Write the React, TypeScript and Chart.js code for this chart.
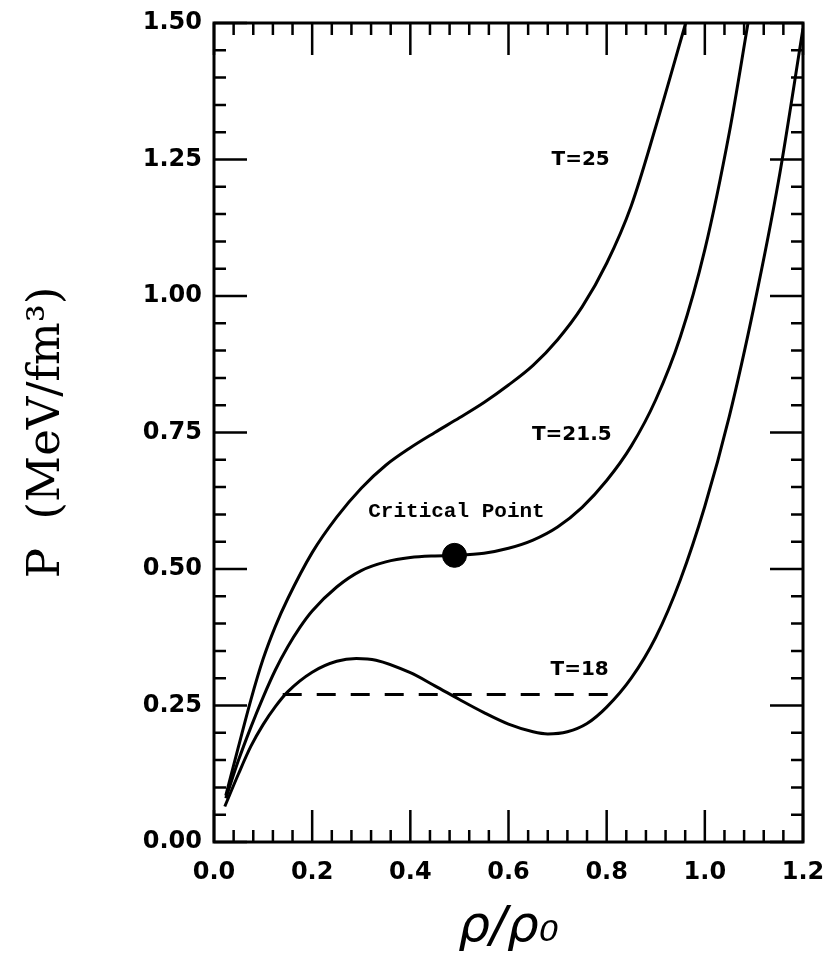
import React, { useEffect, useRef } from 'react';
import { Chart, registerables } from 'chart.js';

Chart.register(...registerables);

// ---- axis ticks ----
const X_MAJOR = [0.0, 0.2, 0.4, 0.6, 0.8, 1.0, 1.2];
const Y_MAJOR = [0.0, 0.25, 0.5, 0.75, 1.0, 1.25, 1.5];
const X_MINOR_PER_MAJOR = 5;
const Y_MINOR_PER_MAJOR = 5;

// ---- isotherms (rho/rho0 , P in MeV/fm^3) ----
const T25_RHO = [0.024, 0.05, 0.075, 0.1, 0.125, 0.15, 0.2, 0.25, 0.3, 0.35, 0.4, 0.45, 0.5, 0.55, 0.6, 0.65, 0.7, 0.75, 0.8, 0.85, 0.9, 0.961];
const T25_P = [0.085, 0.175, 0.26, 0.335, 0.395, 0.445, 0.53, 0.595, 0.648, 0.69, 0.722, 0.75, 0.777, 0.805, 0.837, 0.873, 0.92, 0.98, 1.06, 1.165, 1.31, 1.5];

const T215_RHO = [0.024, 0.05, 0.075, 0.1, 0.125, 0.15, 0.175, 0.2, 0.25, 0.3, 0.35, 0.4, 0.45, 0.49, 0.55, 0.6, 0.65, 0.7, 0.75, 0.8, 0.85, 0.9, 0.95, 1.0, 1.05, 1.088];
const T215_P = [0.08, 0.15, 0.21, 0.265, 0.315, 0.357, 0.393, 0.423, 0.467, 0.497, 0.513, 0.521, 0.524, 0.525, 0.529, 0.538, 0.553, 0.577, 0.613, 0.662, 0.725, 0.81, 0.925, 1.085, 1.3, 1.5];

const T18_RHO = [0.022, 0.05, 0.075, 0.1, 0.125, 0.15, 0.2, 0.25, 0.29, 0.33, 0.4, 0.45, 0.5, 0.55, 0.6, 0.65, 0.68, 0.72, 0.76, 0.8, 0.85, 0.9, 0.95, 1.0, 1.05, 1.1, 1.15, 1.2];
const T18_P = [0.065, 0.125, 0.175, 0.215, 0.248, 0.275, 0.311, 0.331, 0.336, 0.333, 0.31, 0.286, 0.261, 0.237, 0.216, 0.202, 0.198, 0.202, 0.217, 0.247, 0.3, 0.375, 0.48, 0.615, 0.78, 0.98, 1.21, 1.49];

// Maxwell construction (dashed) for T=18
const COEX_RHO = [0.14, 0.822];
const COEX_P = [0.27, 0.27];

// critical point
const CRIT_RHO = [0.49];
const CRIT_P = [0.525];

// text annotations
const NOTE_TEXT = ['T=25', 'T=21.5', 'T=18', 'Critical Point'];
const NOTE_RHO = [0.747, 0.729, 0.745, 0.494];
const NOTE_P = [1.249, 0.746, 0.315, 0.605];

type TickDef = { v: number; major: boolean };

function buildTicks(majors: number[], n: number): TickDef[] {
  const out: TickDef[] = [];
  for (let i = 0; i < majors.length - 1; i++) {
    const a = majors[i];
    const b = majors[i + 1];
    for (let k = 0; k < n; k++) {
      out.push({ v: a + ((b - a) * k) / n, major: k === 0 });
    }
  }
  out.push({ v: majors[majors.length - 1], major: true });
  return out;
}

const X_TICKS = buildTicks(X_MAJOR, X_MINOR_PER_MAJOR);
const Y_TICKS = buildTicks(Y_MAJOR, Y_MINOR_PER_MAJOR);

const zip = (xs: number[], ys: number[]) => xs.map((x, i) => ({ x, y: ys[i] }));

const framePlugin = {
  id: 'frameTicks',
  afterDraw(chart: any) {
    const { ctx, chartArea, scales } = chart;
    const { left, right, top, bottom } = chartArea;
    const xs = scales.x;
    const ys = scales.y;
    ctx.save();
    ctx.strokeStyle = '#000';
    ctx.lineCap = 'butt';
    ctx.lineWidth = 2.5;
    ctx.beginPath();
    X_TICKS.forEach((t) => {
      const px = xs.getPixelForValue(t.v);
      const len = t.major ? 32 : 12;
      ctx.moveTo(px, bottom);
      ctx.lineTo(px, bottom - len);
      ctx.moveTo(px, top);
      ctx.lineTo(px, top + len);
    });
    Y_TICKS.forEach((t) => {
      const py = ys.getPixelForValue(t.v);
      const len = t.major ? 33 : 12;
      ctx.moveTo(left, py);
      ctx.lineTo(left + len, py);
      ctx.moveTo(right, py);
      ctx.lineTo(right - len, py);
    });
    ctx.stroke();
    ctx.lineWidth = 3;
    ctx.strokeRect(left, top, right - left, bottom - top);

    ctx.fillStyle = '#000';
    ctx.textAlign = 'center';
    ctx.textBaseline = 'middle';
    NOTE_TEXT.forEach((txt, i) => {
      const px = xs.getPixelForValue(NOTE_RHO[i]);
      const py = ys.getPixelForValue(NOTE_P[i]);
      ctx.font = txt === 'Critical Point' ? "bold 21px 'Liberation Mono'" : "bold 20px 'DejaVu Sans'";
      ctx.fillText(txt, px, py);
    });
    ctx.restore();
  },
};

export default function App() {
  const ref = useRef<HTMLCanvasElement | null>(null);

  useEffect(() => {
    if (!ref.current) return;
    const lineStyle = {
      borderColor: '#000',
      borderWidth: 3,
      pointRadius: 0,
      fill: false,
      cubicInterpolationMode: 'monotone' as const,
    };
    const chart = new Chart(ref.current, {
      type: 'line',
      data: {
        datasets: [
          { label: 'T=25', data: zip(T25_RHO, T25_P), ...lineStyle },
          { label: 'T=21.5', data: zip(T215_RHO, T215_P), ...lineStyle },
          { label: 'T=18', data: zip(T18_RHO, T18_P), ...lineStyle },
          {
            label: 'coexistence',
            data: zip(COEX_RHO, COEX_P),
            borderColor: '#000',
            borderWidth: 3,
            borderDash: [19, 15],
            pointRadius: 0,
            fill: false,
          },
          {
            label: 'Critical Point',
            data: zip(CRIT_RHO, CRIT_P),
            showLine: false,
            pointRadius: 12,
            pointBackgroundColor: '#000',
            pointBorderColor: '#000',
            borderColor: '#000',
          },
        ],
      },
      options: {
        animation: false,
        responsive: false,
        events: [],
        layout: { padding: { left: 0, right: 25, top: 23, bottom: 0 } },
        plugins: {
          legend: { display: false },
          tooltip: { enabled: false },
        },
        scales: {
          x: {
            type: 'linear',
            position: 'bottom',
            min: 0,
            max: 1.2,
            grid: { display: false, drawTicks: false },
            border: { display: false },
            afterBuildTicks: (scale: any) => {
              scale.ticks = X_TICKS.map((t) => ({ value: t.v }));
            },
            afterFit: (scale: any) => {
              scale.height = 116;
              scale.paddingLeft = 0;
              scale.paddingRight = 0;
            },
            ticks: {
              autoSkip: false,
              maxRotation: 0,
              minRotation: 0,
              padding: 16,
              color: '#000',
              font: { family: "'DejaVu Sans'", size: 24, weight: 'bold' },
              callback: (_v: any, i: number) => (X_TICKS[i] && X_TICKS[i].major ? X_TICKS[i].v.toFixed(1) : ''),
            },
            title: {
              display: true,
              text: 'ρ/ρ₀',
              color: '#000',
              font: { family: "'DejaVu Sans'", size: 50, style: 'italic' },
              padding: { top: 0, bottom: 0 },
            },
          },
          y: {
            type: 'linear',
            min: 0,
            max: 1.5,
            grid: { display: false, drawTicks: false },
            border: { display: false },
            afterBuildTicks: (scale: any) => {
              scale.ticks = Y_TICKS.map((t) => ({ value: t.v }));
            },
            afterFit: (scale: any) => {
              scale.width = 214;
              scale.paddingTop = 0;
              scale.paddingBottom = 0;
            },
            ticks: {
              autoSkip: false,
              padding: 12,
              color: '#000',
              font: { family: "'DejaVu Sans'", size: 24, weight: 'bold' },
              callback: (_v: any, i: number) => (Y_TICKS[i] && Y_TICKS[i].major ? Y_TICKS[i].v.toFixed(2) : ''),
            },
            title: {
              display: true,
              text: 'P  (MeV/fm³)',
              color: '#000',
              font: { family: "'DejaVu Serif'", size: 45 },
              padding: { top: 20, bottom: 0 },
            },
          },
        },
      },
      plugins: [framePlugin],
    });
    return () => chart.destroy();
  }, []);

  return (
    <div style={{ position: 'absolute', left: 0, top: 0, width: 828, height: 958, background: '#fff' }}>
      <canvas ref={ref} width={828} height={958} style={{ display: 'block' }} />
    </div>
  );
}
